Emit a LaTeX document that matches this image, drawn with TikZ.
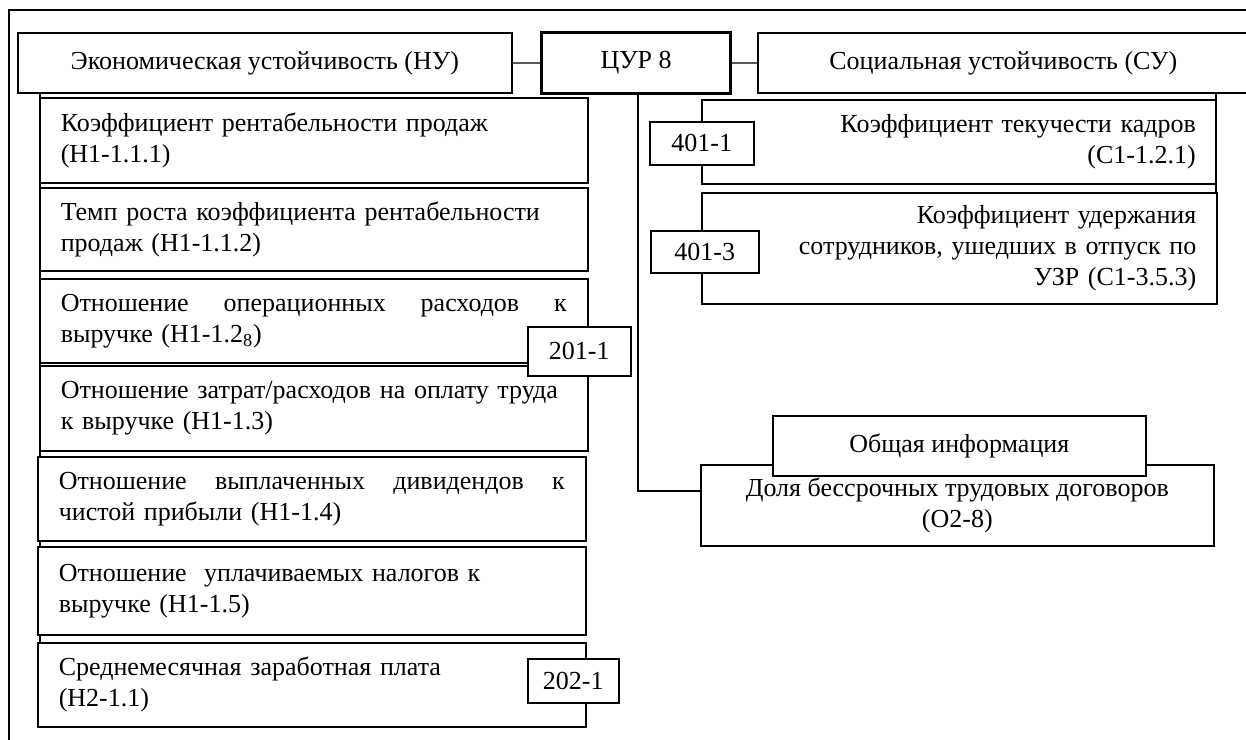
\documentclass[tikz,border=0pt]{standalone}
\usepackage{fontspec}
\setmainfont{Liberation Serif}
\usetikzlibrary{positioning}
\newcommand\boxfont{\fontsize{13pt}{15.6pt}\selectfont}

\begin{document}
\begin{tikzpicture}[x=0.5pt,y=-0.5pt,
  every node/.style={font=\boxfont},
  frm/.style={line width=0.8pt},
  link/.style={line width=0.6pt},
  sz/.style 2 args={minimum width=#1*0.5pt,minimum height=#2*0.5pt},
  head/.style={draw,line width=0.8pt,fill=white,anchor=north west,inner sep=0pt,align=center},
  lbox/.style={draw,line width=0.8pt,fill=white,anchor=north west,inner xsep=10.5pt,inner ysep=0pt,text width=253pt,align=left},
  rbox/.style={draw,line width=0.8pt,fill=white,anchor=north west,inner xsep=10pt,inner ysep=0pt,text width=237pt,align=right},
  code/.style={draw,line width=0.8pt,fill=white,anchor=north west,inner sep=0pt,align=center}]
\useasboundingbox (0,0) rectangle (1246,739);
\clip (0,0) rectangle (1246,739);

\draw[frm] (9,750) -- (9,10) -- (1260,10);

\node[head,sz={494}{60}] (nu) at (17,32) {Экономическая устойчивость (НУ)};
\node[head,sz={189}{61},line width=1.6pt] (cur) at (540,31) {ЦУР 8};
\node[head,sz={491}{60}] (su) at (757,32) {Социальная устойчивость (СУ)};

% connectors first, boxes are filled white on top
\coordinate (stem) at (638,491);
\coordinate (rlink) at (1216,227);
\draw[link] (nu) -- (cur);
\draw[link] (cur) -- (su);
\draw[link] (40,92) -- (40,642);
\draw[link] (su.south -| rlink) -- (rlink);

\node[lbox,sz={548}{85}] (b1) at (39,97) {Коэффициент рентабельности продаж\\(Н1-1.1.1)};
\node[lbox,sz={548}{83}] (b2) at (39,187) {Темп роста коэффициента рентабельности\\продаж (Н1-1.1.2)};
\node[lbox,sz={548}{84}] (b3) at (39,278) {Отношение\hfill операционных\hfill расходов\hfill к\\выручке (Н1-1.2\textsubscript{8})};
\node[lbox,sz={548}{85}] (b4) at (39,365) {Отношение затрат/расходов на оплату труда\\к выручке (Н1-1.3)};
\node[lbox,sz={548}{84}] (b5) at (37,456) {Отношение\hfill выплаченных\hfill дивидендов\hfill к\\чистой прибыли (Н1-1.4)};
\node[lbox,sz={548}{88}] (b6) at (37,546) {Отношение\ \ уплачиваемых налогов к\\выручке (Н1-1.5)};
\node[lbox,sz={548}{84}] (b7) at (37,642) {Среднемесячная заработная плата\\(Н2-1.1)};

\node[code,sz={103}{49}] (k201) at (527,326) {201-1};
\node[code,sz={91}{44}] (k202) at (527,658) {202-1};

\node[rbox,sz={513}{84}] (c1) at (701,99) {Коэффициент текучести кадров\\(С1-1.2.1)};
\node[rbox,sz={515}{111}] (c3) at (701,192) {Коэффициент удержания\\сотрудников, ушедших в отпуск по\\УЗР (С1-3.5.3)};
\node[code,sz={104}{43}] (k401a) at (649,121) {401-1};
\node[code,sz={108}{42}] (k401c) at (650,230) {401-3};

\draw[link] (cur.south -| stem) -- (stem) -- (stem -| 700,0);
\node[code,sz={513}{81}] (dolya) at (700,464) {Доля бессрочных трудовых договоров\\(О2-8)};
\node[code,sz={373}{60}] (info) at (772,415) {Общая информация};

\end{tikzpicture}
\end{document}
